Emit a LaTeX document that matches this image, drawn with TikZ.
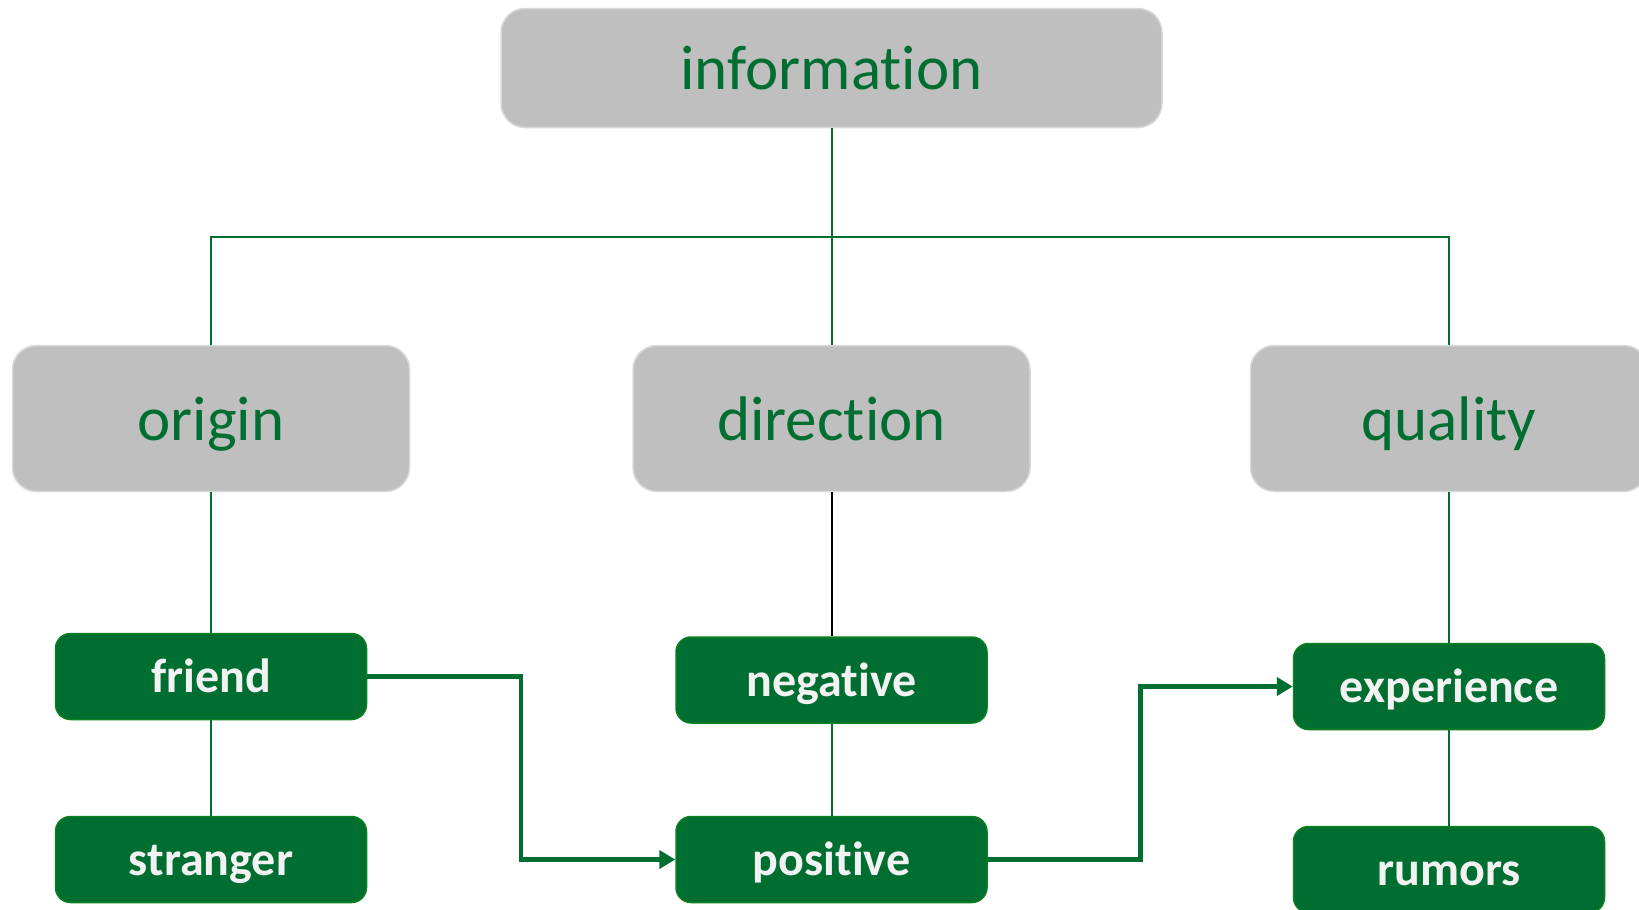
\documentclass[tikz,border=0pt]{standalone}
\usepackage{fontspec}
\setmainfont{Carlito}[Ligatures=NoCommon]
\usetikzlibrary{arrows.meta}
\definecolor{dkgreen}{RGB}{0,110,48}
\definecolor{bordergreen}{RGB}{10,128,30}
\definecolor{boxgray}{RGB}{191,191,191}
\definecolor{edgegray}{RGB}{217,217,217}
\definecolor{offwhite}{RGB}{242,242,242}
\tikzset{
  graybox/.style={draw=edgegray, line width=1.5pt, fill=boxgray, rounded corners=24pt,
    text=dkgreen, font=\fontsize{63}{63}\selectfont, text height=46pt, text depth=3pt,
    inner sep=0pt},
  greenbox/.style={draw=bordergreen, line width=1.5pt, fill=dkgreen, rounded corners=15pt,
    text=offwhite, font=\fontsize{48}{48}\selectfont\bfseries, text height=34.5pt, text depth=2.3pt,
    inner sep=0pt, minimum width=311pt, minimum height=86pt},
  thinline/.style={draw=dkgreen, line width=2pt},
  blackline/.style={draw=black, line width=2pt},
  flow/.style={draw=dkgreen, line width=4.5pt, -{Triangle[length=16pt,width=18pt]}}
}
\begin{document}
\begin{tikzpicture}[x=1pt,y=-1pt]
\useasboundingbox (0,0) rectangle (1639,910);
\begin{scope}
\clip (0,0) rectangle (1639,910);
% gray boxes
\node[graybox, minimum width=661pt, minimum height=119pt] (information) at (831.5,68) {information};
\node[graybox, minimum width=397pt, minimum height=146pt] (origin) at (211,418.5) {origin};
\node[graybox, minimum width=397pt, minimum height=146pt] (direction) at (831.5,418.5) {direction};
\node[graybox, minimum width=397pt, minimum height=146pt] (quality) at (1449,418.5) {quality};
% green boxes
\node[greenbox] (friend) at (211,676.5) {friend};
\node[greenbox] (stranger) at (211,859.5) {stranger};
\node[greenbox] (negative) at (831.5,680) {negative};
\node[greenbox] (positive) at (831.5,859.5) {positive};
\node[greenbox] (experience) at (1449,686.5) {experience};
\node[greenbox] (rumors) at (1449,869.5) {rumors};
% connectors
\coordinate (bus) at (831.5,237);
\draw[thinline] (information.south) -- (direction.north);
\draw[thinline] (origin.north) |- (bus) -| (quality.north);
\draw[thinline] (origin.south) -- (friend.north);
\draw[thinline] (friend.south) -- (stranger.north);
\draw[blackline] (direction.south) -- (negative.north);
\draw[thinline] (negative.south) -- (positive.north);
\draw[thinline] (quality.south) -- (experience.north);
\draw[thinline] (experience.south) -- (rumors.north);
\coordinate (bendA) at (521,0);
\coordinate (bendB) at (1140.5,0);
\draw[flow] (friend.east) -| (bendA |- positive.west) -- (positive.west);
\draw[flow] (positive.east) -| (bendB |- experience.west) -- (experience.west);
\end{scope}
\end{tikzpicture}
\end{document}
